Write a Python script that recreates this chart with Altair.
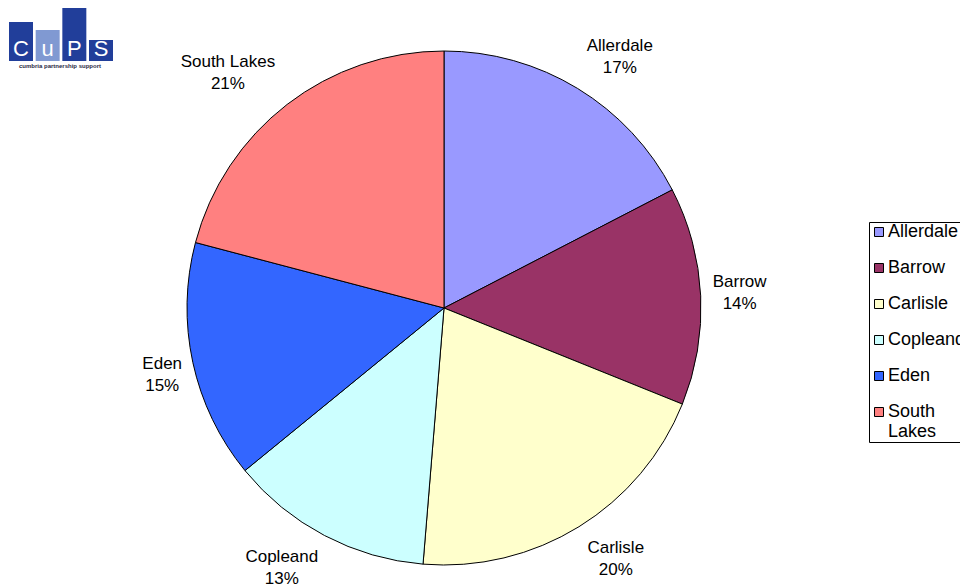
import altair as alt
import pandas as pd

# ---- data ----
names = ["Allerdale", "Barrow", "Carlisle", "Copleand", "Eden", "South Lakes"]
shares = [17.4, 13.7, 20.2, 12.8, 15.0, 20.9]
colors = ["#9999FF", "#993366", "#FFFFCC", "#CCFFFF", "#3366FF", "#FF8080"]

logo_letters = ["C", "u", "P", "S"]
logo_heights = [39, 31, 53, 21]
logo_colors = ["#213E9A", "#8099D2", "#213E9A", "#213E9A"]
logo_caption = ["cumbria partnership support"]

FONT = "Liberation Sans"
FS = 17
LH = 22
W, H = 952, 580
CX, CY = 436, 300
R = 257
GAP = 8
HH = 25

# approximate Arial advance widths (per 1000 em) to size label boxes
ARIAL = {"A": 667, "B": 667, "C": 722, "E": 667, "L": 556, "S": 667, "a": 556,
         "d": 556, "e": 556, "h": 556, "k": 500, "l": 222, "n": 556, "o": 556,
         "p": 556, "r": 333, "s": 500, "t": 278, "u": 556, "w": 722, "i": 222,
         " ": 278, "%": 889}


def text_w(s):
    return sum(ARIAL.get(ch, 556) for ch in s) * FS / 1000


pct_txt = [f"{round(v)}%" for v in shares]
half_w = [1.15 * max(text_w(n), text_w(p)) / 2 for n, p in zip(names, pct_txt)]

df = pd.DataFrame({"name": names, "share": shares, "hw": half_w,
                   "idx": list(range(len(names)))})
logo = pd.DataFrame({"letter": logo_letters, "h": logo_heights, "c": logo_colors})
cap = pd.DataFrame({"t": logo_caption})

theta = alt.Theta("share:Q", stack=True)
order = alt.Order("idx:Q")

arcs = alt.Chart(df).mark_arc(outerRadius=R, stroke="black", strokeWidth=1).encode(
    theta=theta,
    order=order,
    x=alt.value(CX),
    y=alt.value(CY),
    color=alt.Color(
        "name:N",
        sort=names,
        scale=alt.Scale(domain=names, range=colors),
        legend=alt.Legend(
            title=None,
            orient="none",
            legendX=861,
            legendY=214,
            direction="vertical",
            symbolType="square",
            symbolSize=81,
            symbolStrokeColor="black",
            symbolStrokeWidth=1,
            labelFont=FONT,
            labelFontSize=18,
            labelColor="black",
            labelOffset=0,
            rowPadding=18,
            padding=1,
            strokeColor="black",
            fillColor="white",
            labelLimit=300,
            labelExpr="datum.label == 'South Lakes' ? ['South', 'Lakes'] : datum.label",
        ),
    ),
)

labels = alt.Chart(df).transform_joinaggregate(
    total="sum(share)"
).transform_window(
    cum="sum(share)", sort=[alt.SortField("idx", order="ascending")], frame=[None, 0]
).transform_calculate(
    mid="2*PI*(datum.cum - datum.share/2)/datum.total",
    sx="sin(datum.mid)",
    sy="-cos(datum.mid)",
).transform_calculate(
    lx=f"{CX} + {R + GAP}*datum.sx + datum.hw*clamp(2*datum.sx, -1, 1)",
    ly=f"{CY} + {R + GAP}*datum.sy + {HH}*clamp(2*datum.sy, -1, 1)",
    label="datum.name + '\\n' + format(datum.share, '.0f') + '%'",
).mark_text(
    font=FONT, fontSize=FS, lineHeight=LH, lineBreak="\n", dy=-LH / 2,
    color="black", align="center", baseline="middle"
).encode(
    x=alt.X("lx:Q", scale=None, axis=None),
    y=alt.Y("ly:Q", scale=None, axis=None),
    text="label:N",
)

lx = alt.X("letter:N", sort=logo_letters, axis=None,
           scale=alt.Scale(range=[1, 105], paddingInner=0.1, paddingOuter=0))
ly_scale = alt.Scale(domain=[0, 53], range=[53, 0])

logo_bars = alt.Chart(logo).mark_bar().encode(
    x=lx,
    y=alt.Y("h:Q", scale=ly_scale, axis=None),
    fill=alt.Fill("c:N", scale=None),
)

logo_text = alt.Chart(logo).mark_text(
    color="white", font=FONT, fontSize=22, baseline="middle", align="center"
).encode(
    x=lx,
    y=alt.datum(12, scale=ly_scale),
    text="letter:N",
)

logo_layer = alt.layer(logo_bars, logo_text)

caption = alt.Chart(cap).mark_text(
    font=FONT, fontSize=6, fontWeight="bold", color="#2a2a44", align="center",
    baseline="middle"
).encode(
    x=alt.value(52), y=alt.value(58), text="t:N"
)

chart = alt.layer(arcs, labels, logo_layer, caption).resolve_scale(
    x="independent", y="independent"
).properties(
    width=W, height=H, autosize="none", padding=0
).configure_view(stroke=None)

chart.save("out.html", embed_options={"renderer": "svg", "actions": False})
